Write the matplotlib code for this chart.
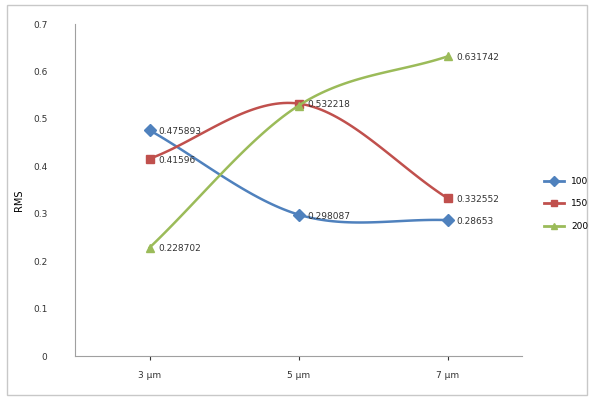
import numpy as np
import matplotlib.pyplot as plt

# thickness categories and RMS values for each series
categories = ["3 µm", "5 µm", "7 µm"]
series_names = ["100", "150", "200"]
rms_100 = [0.475893, 0.298087, 0.28653]
rms_150 = [0.41596, 0.532218, 0.332552]
rms_200 = [0.228702, 0.528, 0.631742]
labels_100 = ["0.475893", "0.298087", "0.28653"]
labels_150 = ["0.41596", "0.532218", "0.332552"]
labels_200 = ["0.228702", "", "0.631742"]

colors = ["#4F81BD", "#C0504D", "#9BBB59"]
markers = ["D", "s", "^"]


def smooth(xs, ys, n=40):
    # Catmull-Rom curve through the points, like Excel's smoothed line
    pts = np.column_stack([xs, ys]).astype(float)
    ext = np.vstack([2 * pts[0] - pts[1], pts, 2 * pts[-1] - pts[-2]])
    out = []
    for i in range(1, len(ext) - 2):
        p0, p1, p2, p3 = ext[i - 1], ext[i], ext[i + 1], ext[i + 2]
        t = np.linspace(0, 1, n)[:, None]
        seg = 0.5 * ((2 * p1) + (-p0 + p2) * t + (2 * p0 - 5 * p1 + 4 * p2 - p3) * t ** 2
                     + (-p0 + 3 * p1 - 3 * p2 + p3) * t ** 3)
        out.append(seg)
    out = np.vstack(out)
    return out[:, 0], out[:, 1]


fig = plt.figure(figsize=(5.92, 4), dpi=100)
fig.patches.append(plt.Rectangle((0.012, 0.012), 0.98, 0.975, transform=fig.transFigure,
                                 fill=False, edgecolor="#c8c8c8", linewidth=1))
ax = fig.add_axes([0.127, 0.11, 0.755, 0.83])

x = np.arange(len(categories))
for vals, labs, name, c, m in zip([rms_100, rms_150, rms_200],
                                  [labels_100, labels_150, labels_200],
                                  series_names, colors, markers):
    sx, sy = smooth(x, vals)
    ax.plot(sx, sy, color=c, linewidth=1.8)
    ax.plot(x, vals, linestyle="none", marker=m, color=c, markersize=6, label=name)
    for xi, v, lab in zip(x, vals, labs):
        if lab:
            ax.annotate(lab, (xi, v), xytext=(6, -1), textcoords="offset points",
                        fontsize=6.5, va="center", ha="left", color="#333333")

ax.set_xlim(-0.5, 2.5)
ax.set_ylim(0, 0.7)
ax.set_yticks(np.arange(0, 0.71, 0.1))
ax.set_yticklabels(["0", "0.1", "0.2", "0.3", "0.4", "0.5", "0.6", "0.7"])
ax.set_xticks(x)
ax.set_xticklabels(categories)
ax.tick_params(axis="both", labelsize=6.5, colors="#333333", length=3)
ax.tick_params(axis="y", length=0, pad=20)
ax.tick_params(axis="x", pad=8)
for side in ["top", "right"]:
    ax.spines[side].set_visible(False)
for side in ["left", "bottom"]:
    ax.spines[side].set_color("#a0a0a0")
ax.set_ylabel("RMS", fontsize=7)
ax.yaxis.set_label_coords(-0.115, 0.47)

# legend entries with line + marker
handles = [plt.Line2D([], [], color=c, marker=m, markersize=5, linewidth=2)
           for c, m in zip(colors, markers)]
fig.legend(handles, series_names, loc="center left", bbox_to_anchor=(0.905, 0.49),
           frameon=False, fontsize=6.5, handlelength=2.2, labelspacing=1.5)

fig.savefig("out.png", dpi=100)
